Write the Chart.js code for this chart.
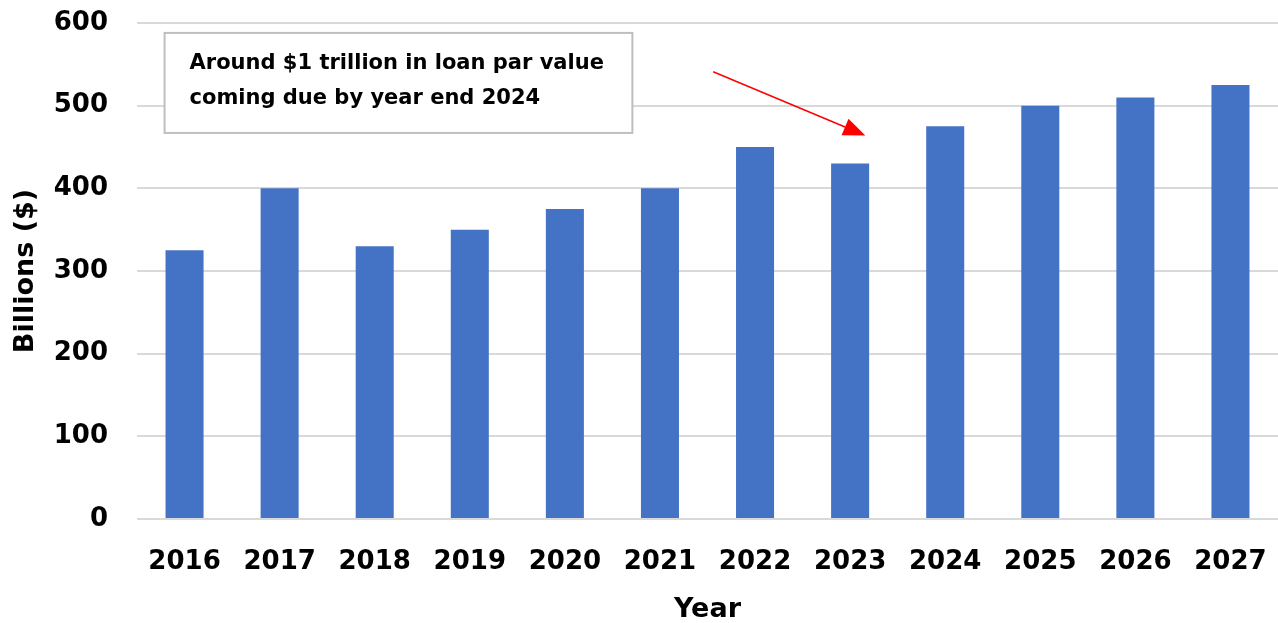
<!DOCTYPE html>
<html>
<head>
<meta charset="utf-8">
<script src="https://cdn.jsdelivr.net/npm/chart.js@4"></script>
<style>
  html, body { margin: 0; padding: 0; background: #fff; }
  #wrap { width: 1278px; height: 623px; }
</style>
</head>
<body>
<div id="wrap"><canvas id="chart"></canvas></div>
<script>
// data
var years = ["2016", "2017", "2018", "2019", "2020", "2021", "2022", "2023", "2024", "2025", "2026", "2027"];
var loanValues = [325, 400, 330, 350, 375, 400, 450, 430, 475, 500, 510, 525];
var noteLines = ["Around $1 trillion in loan par value", "coming due by year end 2024"];

var fontName = "'DejaVu Sans', sans-serif";

// draw the text box and the red arrow using the scales
var notePlugin = {
  id: "note",
  afterDraw: function (chart) {
    var ctx = chart.ctx;
    var x = chart.scales.x;
    var y = chart.scales.y;

    var bx1 = x.getPixelForValue(-0.21), bx2 = x.getPixelForValue(4.71);
    var by1 = y.getPixelForValue(588), by2 = y.getPixelForValue(467);
    ctx.save();
    ctx.fillStyle = "#fff";
    ctx.fillRect(bx1, by1, bx2 - bx1, by2 - by1);
    ctx.strokeStyle = "#bfbfbf";
    ctx.lineWidth = 2;
    ctx.strokeRect(bx1, by1, bx2 - bx1, by2 - by1);
    ctx.fillStyle = "#000";
    ctx.font = "bold 21px " + fontName;
    ctx.textBaseline = "middle";
    ctx.textAlign = "left";
    ctx.fillText(noteLines[0], bx1 + 25, by1 + 31);
    ctx.fillText(noteLines[1], bx1 + 25, by1 + 66);

    // arrow
    var ax1 = x.getPixelForValue(5.56), ay1 = y.getPixelForValue(541);
    var ax2 = x.getPixelForValue(7.16), ay2 = y.getPixelForValue(464);
    var ang = Math.atan2(ay2 - ay1, ax2 - ax1);
    var headLen = 22, headW = 9;
    var bxh = ax2 - headLen * Math.cos(ang), byh = ay2 - headLen * Math.sin(ang);
    ctx.strokeStyle = "#ff0000";
    ctx.lineWidth = 1.5;
    ctx.beginPath();
    ctx.moveTo(ax1, ay1);
    ctx.lineTo(bxh, byh);
    ctx.stroke();
    ctx.fillStyle = "#ff0000";
    ctx.beginPath();
    ctx.moveTo(ax2, ay2);
    ctx.lineTo(bxh + headW * Math.sin(ang), byh - headW * Math.cos(ang));
    ctx.lineTo(bxh - headW * Math.sin(ang), byh + headW * Math.cos(ang));
    ctx.closePath();
    ctx.fill();
    ctx.restore();
  },
};

new Chart(document.getElementById("chart").getContext("2d"), {
  type: "bar",
  data: {
    labels: years,
    datasets: [
      {
        label: "Loans coming due",
        data: loanValues,
        backgroundColor: "#4472c4",
        barPercentage: 0.4,
        categoryPercentage: 1,
      },
    ],
  },
  options: {
    responsive: true,
    maintainAspectRatio: false,
    animation: false,
    layout: { padding: { left: 10, right: 0, top: 23, bottom: 0 } },
    plugins: {
      legend: { display: false },
      tooltip: { enabled: false },
    },
    scales: {
      x: {
        grid: { display: false, drawTicks: false },
        border: { display: false },
        ticks: {
          color: "#000",
          font: { family: fontName, size: 26, weight: "bold" },
          padding: 28,
        },
        title: {
          display: true,
          text: "Year",
          color: "#000",
          font: { family: fontName, size: 27, weight: "bold" },
          padding: { top: 0, bottom: -3 },
        },
        afterFit: function (s) {
          s.height = 104;
          s.paddingLeft = 0;
          s.paddingRight = 0;
        },
      },
      y: {
        min: 0,
        max: 600,
        ticks: {
          stepSize: 100,
          color: "#000",
          font: { family: fontName, size: 26, weight: "bold" },
          padding: 29,
        },
        grid: { color: "#d9d9d9", lineWidth: 2, drawTicks: false },
        border: { display: false },
        title: {
          display: true,
          text: "Billions ($)",
          color: "#000",
          font: { family: fontName, size: 27, weight: "bold" },
          padding: { top: 0, bottom: 0 },
        },
        afterFit: function (s) {
          s.width = 127;
          s.paddingTop = 0;
          s.paddingBottom = 0;
        },
      },
    },
  },
  plugins: [notePlugin],
});
</script>
</body>
</html>
